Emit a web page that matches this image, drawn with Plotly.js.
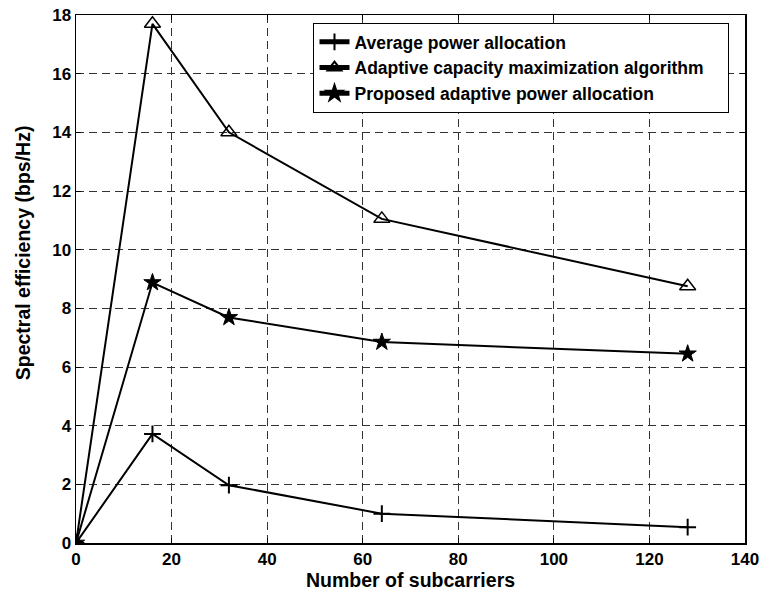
<!DOCTYPE html>
<html>
<head>
<meta charset="utf-8">
<script src="https://cdn.plot.ly/plotly-3.0.1.min.js"></script>
<style>html,body{margin:0;padding:0;background:#fff;}#chart{width:761px;height:597px;}</style>
</head>
<body>
<div id="chart"></div>
<script>
const subcarriers = [0, 16, 32, 64, 128];
const averagePower = [0, 3.72, 1.97, 1.0, 0.54];
const adaptiveCapacity = [0, 17.7, 14.0, 11.05, 8.75];
const proposedAdaptive = [0, 8.88, 7.69, 6.85, 6.45];
const seriesNames = ["Average power allocation", "Adaptive capacity maximization algorithm", "Proposed adaptive power allocation"];
const xTicks = [0, 20, 40, 60, 80, 100, 120, 140];
const yTicks = [0, 2, 4, 6, 8, 10, 12, 14, 16, 18];
const xTitle = "Number of subcarriers";
const yTitle = "Spectral efficiency (bps/Hz)";

const font = {family: "Arial", color: "#000", weight: "bold"};
const line = {color: "#000", width: 2};
const pad = "\u00a0\u00a0\u00a0\u00a0";

const traces = [
  {x: subcarriers, y: averagePower, name: seriesNames[0], mode: "lines+markers", line: line,
   marker: {symbol: "cross-thin-open", size: 12, color: "#000", line: {color: "#000", width: 2}}},
  {x: subcarriers, y: adaptiveCapacity, name: seriesNames[1] + pad, mode: "lines+markers", line: line,
   marker: {symbol: "triangle-up-open", size: 14, color: "#000", line: {color: "#000", width: 1.5}}},
  {x: subcarriers, y: proposedAdaptive, name: seriesNames[2], mode: "lines+markers", line: line,
   marker: {symbol: "star", size: 13, color: "#000", line: {color: "#000", width: 1}}}
];

const axisCommon = {
  showline: true, linecolor: "#000", linewidth: 1.5, mirror: "ticks",
  ticks: "inside", ticklen: 5, tickcolor: "#000", tickwidth: 1,
  showgrid: true, gridcolor: "#333", griddash: "8px,5px", gridwidth: 1,
  zeroline: false, tickfont: Object.assign({}, font, {size: 17})
};

const layout = {
  width: 761, height: 597,
  margin: {l: 76, r: 16, t: 15, b: 54, autoexpand: false},
  paper_bgcolor: "#fff", plot_bgcolor: "#fff",
  font: font,
  xaxis: Object.assign({}, axisCommon, {
    range: [0, 140], tickmode: "array", tickvals: xTicks,
    title: {text: xTitle, font: Object.assign({}, font, {size: 19.5}), standoff: 5}
  }),
  yaxis: Object.assign({}, axisCommon, {
    range: [0, 18], tickmode: "array", tickvals: yTicks
  }),
  annotations: [{
    text: yTitle, xref: "paper", yref: "paper", x: -0.079, y: 0.549,
    xanchor: "center", yanchor: "middle", textangle: -90, showarrow: false,
    font: Object.assign({}, font, {size: 19.5})
  }],
  legend: {
    x: 0.355, y: 0.985, xanchor: "left", yanchor: "top",
    bgcolor: "#fff", bordercolor: "#000", borderwidth: 1,
    font: Object.assign({}, font, {size: 17.5}),
    tracegroupgap: 0, itemwidth: 30, itemsizing: "constant"
  },
  showlegend: true
};

Plotly.newPlot("chart", traces, layout, {displayModeBar: false, staticPlot: true});
</script>
</body>
</html>
